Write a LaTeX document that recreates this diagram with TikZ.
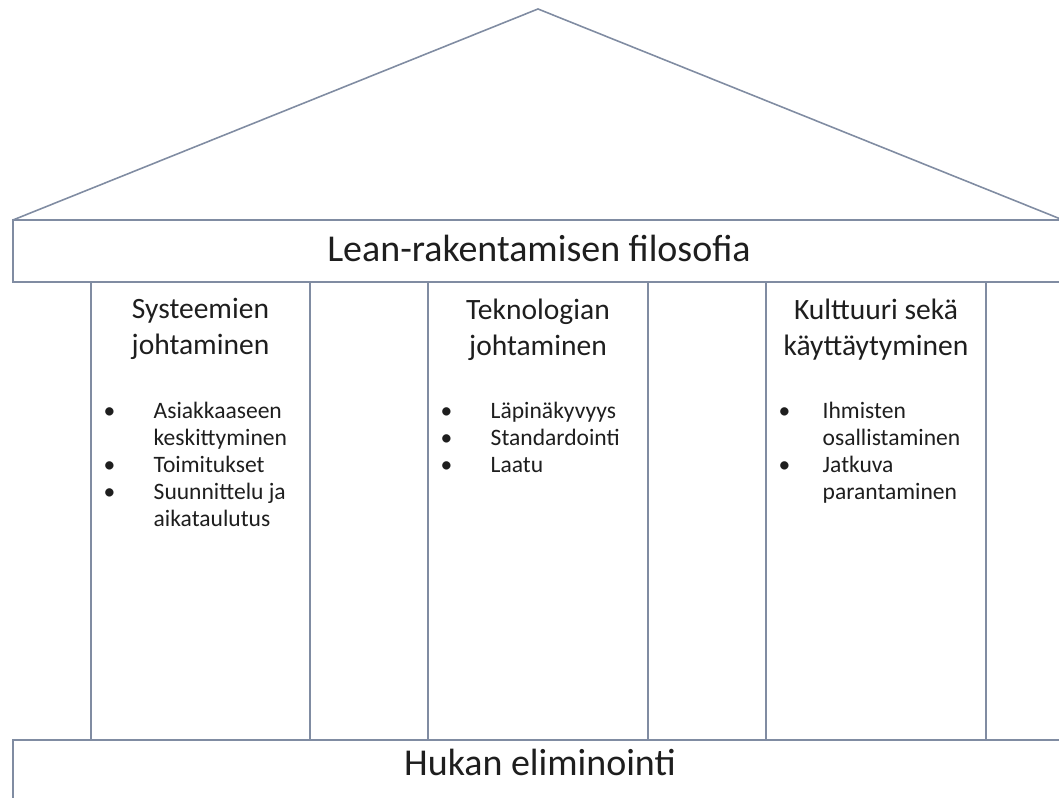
\documentclass[tikz,border=0pt]{standalone}
\usepackage{fontspec}
\setmainfont{Carlito}
\definecolor{edge}{RGB}{128,140,162}
\definecolor{ink}{RGB}{30,30,30}
\begin{document}
\begin{tikzpicture}[
  line/.style={draw=edge, line width=0.45pt},
  title/.style={inner sep=0pt, anchor=base, text=ink, font=\fontsize{10.8}{13}\selectfont},
  head/.style={inner sep=0pt, anchor=north, align=center, text=ink, font=\fontsize{8.4}{10.2}\selectfont},
  items/.style={inner sep=0pt, anchor=north west, text=ink, font=\fontsize{6.7}{7.68}\selectfont}]
  \useasboundingbox (0,0) rectangle (10.59,7.98);
  \clip (0,0) rectangle (10.59,7.98);
  % roof and the two bands
  \draw[line] (0.13,5.78) -- (5.38,7.89) -- (10.63,5.78);
  \draw[line] (0.13,5.16) rectangle (10.75,5.78);
  \draw[line] (0.13,-0.2) rectangle (10.75,0.58);
  % pillars
  \foreach \x in {0.91,3.10,4.28,6.48,7.66,9.86}
    \draw[line] (\x,0.58) -- (\x,5.16);
  \node[title] (roof) at (5.39,5.36) {Lean-rakentamisen filosofia};
  \node[title] (base) at (5.40,0.22) {Hukan eliminointi};
  % pillar headings
  \node[head] (sysHead) at (2.005,5.00) {Systeemien\\johtaminen};
  \node[head] (tekHead) at (5.38,5.00) {Teknologian\\johtaminen};
  \node[head] (kulHead) at (8.76,5.00) {Kulttuuri sekä\\käyttäytyminen};
  % pillar lists
  \node[items] (sysList) at (1.03,3.99) {\begin{tabular}{@{}p{0.50cm}@{}l@{}}
    \textbullet & Asiakkaaseen\\ & keskittyminen\\
    \textbullet & Toimitukset\\
    \textbullet & Suunnittelu ja\\ & aikataulutus
  \end{tabular}};
  \node[items] (tekList) at (4.40,3.99) {\begin{tabular}{@{}p{0.50cm}@{}l@{}}
    \textbullet & Läpinäkyvyys\\
    \textbullet & Standardointi\\
    \textbullet & Laatu
  \end{tabular}};
  \node[items] (kulList) at (7.78,3.99) {\begin{tabular}{@{}p{0.44cm}@{}l@{}}
    \textbullet & Ihmisten\\ & osallistaminen\\
    \textbullet & Jatkuva\\ & parantaminen
  \end{tabular}};
\end{tikzpicture}
\end{document}
